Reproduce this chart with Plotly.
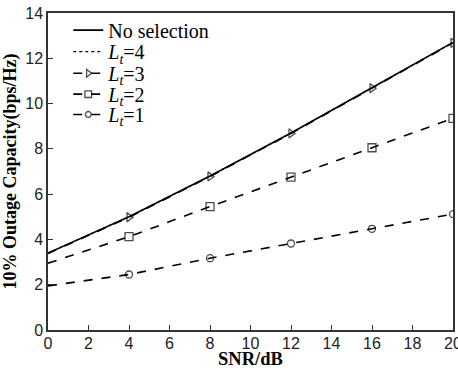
import plotly.graph_objects as go

snr = [0, 4, 8, 12, 16, 20]
no_sel = [3.4, 5.0, 6.8, 8.7, 10.7, 12.7]
l4 = [3.4, 5.0, 6.8, 8.7, 10.7, 12.7]
l3 = [3.38, 4.98, 6.78, 8.68, 10.68, 12.68]
l2 = [2.95, 4.12, 5.45, 6.75, 8.05, 9.35]
l1 = [1.95, 2.45, 3.17, 3.82, 4.47, 5.12]

msize = [0, 8, 8, 8, 8, 8]
msize_c = [0, 7, 7, 7, 7, 7]

fig = go.Figure()
fig.add_trace(go.Scatter(x=snr, y=no_sel, mode="lines", name="No selection", legend="legend",
                         line=dict(color="black", width=1.6)))
fig.add_trace(go.Scatter(x=snr, y=l4, mode="lines", name="<i>L</i><sub><i>t</i></sub>=4", legend="legend2",
                         line=dict(color="black", width=1.2, dash="dot")))
fig.add_trace(go.Scatter(x=snr, y=l3, mode="lines+markers", name="<i>L</i><sub><i>t</i></sub>=3", legend="legend3",
                         line=dict(color="black", width=1.6, dash="dash"),
                         marker=dict(symbol="triangle-right-open", size=msize, color="black",
                                     line=dict(width=1.3, color="black"))))
fig.add_trace(go.Scatter(x=snr, y=l2, mode="lines+markers", name="<i>L</i><sub><i>t</i></sub>=2", legend="legend4",
                         line=dict(color="black", width=1.6, dash="dash"),
                         marker=dict(symbol="square-open", size=msize, color="black",
                                     line=dict(width=1.3, color="black"))))
fig.add_trace(go.Scatter(x=snr, y=l1, mode="lines+markers", name="<i>L</i><sub><i>t</i></sub>=1", legend="legend5",
                         line=dict(color="black", width=1.6, dash="dash"),
                         marker=dict(symbol="circle-open", size=msize_c, color="black",
                                     line=dict(width=1.3, color="black"))))

axis_common = dict(showgrid=False, zeroline=False, showline=True, linecolor="#333",
                   linewidth=1.5, mirror=True, ticks="inside", ticklen=5, tickcolor="#333",
                   ticklabeloverflow="allow", automargin=False,
                   tickfont=dict(family="Liberation Sans, Arial", size=16, color="#222"))

leg_font = dict(family="Liberation Serif, Times New Roman", size=20, color="black")


def leg(y):
    return dict(x=0.05, y=y, xanchor="left", yanchor="middle",
                bgcolor="rgba(255,255,255,0)", borderwidth=0, font=leg_font)


fig.update_layout(
    width=458, height=370,
    margin=dict(l=48, r=5, t=13, b=40),
    paper_bgcolor="white", plot_bgcolor="white",
    showlegend=True,
    legend=leg(0.946),
    legend2=leg(0.878),
    legend3=leg(0.810),
    legend4=leg(0.744),
    legend5=leg(0.680),
    xaxis=dict(range=[0, 20], tickvals=list(range(0, 21, 2)), ticklabelstandoff=-2, **axis_common),
    yaxis=dict(range=[0, 14], tickvals=list(range(0, 15, 2)),
               title=dict(text="<b>10% Outage Capacity(bps/Hz)</b>", standoff=4,
                          font=dict(family="Liberation Serif, Times New Roman", size=18, color="black")),
               **axis_common),
    annotations=[dict(text="<b>SNR/dB</b>", xref="paper", yref="paper", x=0.5, y=0,
                      xanchor="center", yanchor="top", yshift=-17, showarrow=False,
                      font=dict(family="Liberation Serif, Times New Roman", size=18.5, color="black"))],
)

fig.write_html("out.html")
